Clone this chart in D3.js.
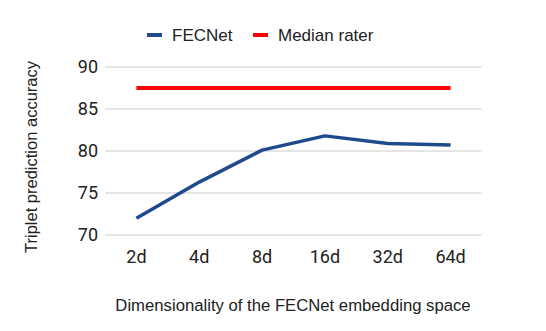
<!DOCTYPE html>
<html><head><meta charset="utf-8">
<script src="https://cdn.jsdelivr.net/npm/d3@7"></script>
<style>body{margin:0;background:#fff}</style>
</head><body>
<svg id="c" width="546" height="331"></svg>
<script>
const categories = ["2d","4d","8d","16d","32d","64d"];
const fecnet = [72.0, 76.3, 80.1, 81.8, 80.9, 80.7];
const medianRater = [87.5, 87.5, 87.5, 87.5, 87.5, 87.5];
const yTicks = [70, 75, 80, 85, 90];

(function(){
const svg = d3.select("#c");
const pLeft = 105, pRight = 482, pTop = 67, pBottom = 235;
const x = d3.scaleBand().domain(categories).range([pLeft, pRight]);
const y = d3.scaleLinear().domain([70, 90]).range([pBottom, pTop]);
const cx = d => x(d) + x.bandwidth()/2;

// grid
svg.append("g").selectAll("line").data(yTicks).join("line")
  .attr("x1", pLeft).attr("x2", pRight)
  .attr("y1", d => y(d)).attr("y2", d => y(d))
  .attr("stroke", "#cccccc").attr("stroke-width", 1);

// y tick labels
svg.append("g").selectAll("text").data(yTicks).join("text")
  .attr("x", 98).attr("y", d => y(d)).attr("dy", "0.35em")
  .attr("text-anchor", "end")
  .style("font-family", "Roboto").style("font-size", "18px").attr("fill", "#222")
  .text(d => d);

// x tick labels
svg.append("g").selectAll("text").data(categories).join("text")
  .attr("x", d => cx(d)).attr("y", 257).attr("dy", "0.35em")
  .attr("text-anchor", "middle")
  .style("font-family", "Roboto").style("font-size", "18px").attr("fill", "#222")
  .text(d => d);

const line = d3.line().x((d, i) => cx(categories[i])).y(d => y(d));

svg.append("path").datum(medianRater).attr("d", line)
  .attr("fill", "none").attr("stroke", "#ff0000").attr("stroke-width", 4);
svg.append("path").datum(fecnet).attr("d", line)
  .attr("fill", "none").attr("stroke", "#1f4b8e").attr("stroke-width", 3.5)
  .attr("stroke-linejoin", "round");

// legend
const legend = [
  {name: "FECNet", color: "#1f4b8e", x: 147},
  {name: "Median rater", color: "#ff0000", x: 253}
];
const lg = svg.append("g");
legend.forEach(l => {
  lg.append("rect").attr("x", l.x).attr("y", 33).attr("width", 15).attr("height", 4).attr("fill", l.color);
  lg.append("text").attr("x", l.x + 25).attr("y", 35).attr("dy", "0.35em")
    .style("font-family", "Liberation Sans, Arial").style("font-size", "17px").attr("fill", "#222")
    .text(l.name);
});

// axis titles
svg.append("text").attr("transform", "translate(31,157) rotate(-90)")
  .attr("text-anchor", "middle").attr("dy", "0.35em")
  .style("font-family", "Liberation Sans, Arial").style("font-size", "16.5px").attr("fill", "#222")
  .text("Triplet prediction accuracy");
svg.append("text").attr("x", 293).attr("y", 305).attr("dy", "0.35em")
  .attr("text-anchor", "middle")
  .style("font-family", "Liberation Sans, Arial").style("font-size", "16.7px").attr("fill", "#222")
  .text("Dimensionality of the FECNet embedding space");
})();
</script>
</body></html>
